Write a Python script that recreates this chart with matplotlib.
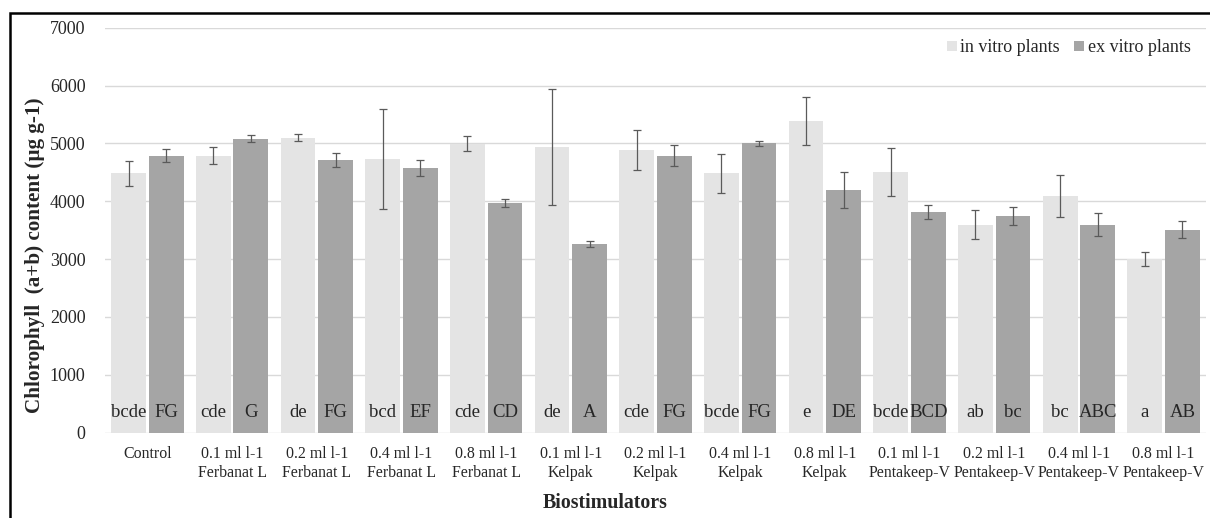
import matplotlib
matplotlib.use("Agg")
import matplotlib.pyplot as plt
import numpy as np
from matplotlib.patches import Rectangle

categories = ["Control", "0.1 ml l-1\nFerbanat L", "0.2 ml l-1\nFerbanat L", "0.4 ml l-1\nFerbanat L",
              "0.8 ml l-1\nFerbanat L", "0.1 ml l-1\nKelpak", "0.2 ml l-1\nKelpak", "0.4 ml l-1\nKelpak",
              "0.8 ml l-1\nKelpak", "0.1 ml l-1\nPentakeep-V", "0.2 ml l-1\nPentakeep-V",
              "0.4 ml l-1\nPentakeep-V", "0.8 ml l-1\nPentakeep-V"]
in_vitro = [4480, 4790, 5095, 4730, 4990, 4935, 4890, 4480, 5385, 4505, 3595, 4085, 3000]
in_vitro_err = [210, 150, 60, 870, 130, 1000, 345, 340, 420, 415, 255, 360, 120]
ex_vitro = [4790, 5080, 4715, 4570, 3970, 3255, 4790, 5000, 4195, 3815, 3740, 3595, 3510]
ex_vitro_err = [110, 65, 120, 135, 65, 55, 180, 45, 310, 125, 155, 200, 155]
in_letters = ["bcde", "cde", "de", "bcd", "cde", "de", "cde", "bcde", "e", "bcde", "ab", "bc", "a"]
ex_letters = ["FG", "G", "FG", "EF", "CD", "A", "FG", "FG", "DE", "BCD", "bc", "ABC", "AB"]
series_names = ["in vitro plants", "ex vitro plants"]
y_ticks = [0, 1000, 2000, 3000, 4000, 5000, 6000, 7000]

plt.rcParams['font.family'] = ['Liberation Serif', 'DejaVu Serif']

W, H = 1210, 518
fig = plt.figure(figsize=(W / 100, H / 100), dpi=100)
ax = fig.add_axes([105 / W, 1 - 432.5 / H, (1206 - 105) / W, (432.5 - 27.7) / H])

x = np.arange(len(categories))
bw = 0.41
off = 0.222
c_in, c_ex = "#e4e4e4", "#a5a5a5"
ecol = "#5a5a5a"
ax.bar(x - off, in_vitro, bw, color=c_in, label=series_names[0], zorder=2)
ax.bar(x + off, ex_vitro, bw, color=c_ex, label=series_names[1], zorder=2)
ax.errorbar(x - off, in_vitro, yerr=in_vitro_err, fmt="none", ecolor=ecol, elinewidth=0.9,
            capsize=3, capthick=0.9, zorder=3)
ax.errorbar(x + off, ex_vitro, yerr=ex_vitro_err, fmt="none", ecolor=ecol, elinewidth=0.9,
            capsize=3, capthick=0.9, zorder=3)

for i in range(len(categories)):
    ax.text(x[i] - off, 340, in_letters[i], ha="center", va="center", fontsize=13.5, color="#262626", zorder=4)
    ax.text(x[i] + off, 340, ex_letters[i], ha="center", va="center", fontsize=13.5, color="#262626", zorder=4)

ax.set_xlim(-0.5, len(categories) - 0.5)
ax.set_ylim(0, 7000)
ax.set_yticks(y_ticks)
ax.set_yticklabels([str(v) for v in y_ticks], fontsize=13, color="#262626")
ax.set_xticks(x)
ax.set_xticklabels(categories, fontsize=11.4, color="#262626", linespacing=1.2)
ax.tick_params(axis="both", length=0)
ax.tick_params(axis="y", pad=14)
ax.tick_params(axis="x", pad=10)
ax.grid(axis="y", color="#d9d9d9", linewidth=1.0, zorder=0)
ax.set_axisbelow(True)
for s in ax.spines.values():
    s.set_visible(False)

leg = ax.legend(loc="upper right", bbox_to_anchor=(0.996, 0.998), ncol=2, frameon=False, fontsize=13,
                handlelength=0.55, handleheight=0.55, handletextpad=0.2, columnspacing=0.8, borderaxespad=0.2)
for t in leg.get_texts():
    t.set_color("#262626")

fig.text(605 / W, 1 - 503 / H, "Biostimulators", ha="center", va="center", fontsize=14.3,
         fontweight="bold", color="#262626")
fig.text(35 / W, 1 - 255 / H, "Chlorophyll  (a+b) content (µg g-1)", ha="center", va="center",
         rotation=90, fontsize=15.2, fontweight="bold", color="#262626")

fig.add_artist(Rectangle((10 / W, -0.05), 1.2, 1 - 13 / H + 0.05, transform=fig.transFigure,
                         fill=False, edgecolor="black", linewidth=1.8, clip_on=False))

fig.savefig("out.png", dpi=100)
